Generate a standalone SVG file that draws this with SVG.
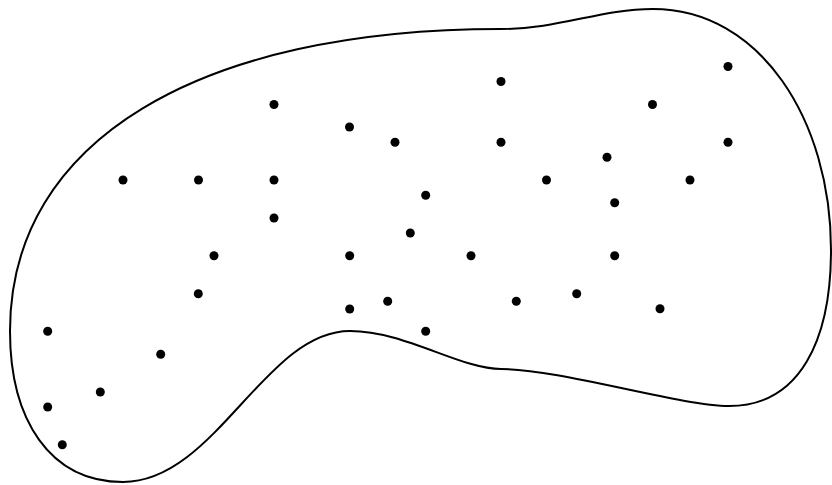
<svg xmlns="http://www.w3.org/2000/svg" width="832" height="485" viewBox="0 0 832 485">
<style>
.blob{fill:none;stroke:#000;stroke-width:2}
.pt{fill:#000}
</style>
<rect width="832" height="485" fill="#fff"/>
<g id="region">
<path class="blob" d="M501,29 C560,29 600,9 653,9 C760,9 831,120 831,250 C831,340 800,406 729,406 C680,406 560,369 501,369 C460,369 405,331 350,331 C265,331 215,482 123,482 C50,482 10,420 10,331 C10,140 200,29 501,29 Z"/>
</g>
<g id="points">
<circle class="pt" cx="501" cy="81.5" r="4.5"/>
<circle class="pt" cx="728" cy="66.5" r="4.5"/>
<circle class="pt" cx="274" cy="104.5" r="4.5"/>
<circle class="pt" cx="652.5" cy="104.5" r="4.5"/>
<circle class="pt" cx="349.5" cy="127" r="4.5"/>
<circle class="pt" cx="395" cy="142.3" r="4.5"/>
<circle class="pt" cx="501" cy="142.3" r="4.5"/>
<circle class="pt" cx="728" cy="142.3" r="4.5"/>
<circle class="pt" cx="607" cy="157.3" r="4.5"/>
<circle class="pt" cx="123" cy="180" r="4.5"/>
<circle class="pt" cx="198.5" cy="180" r="4.5"/>
<circle class="pt" cx="274" cy="180" r="4.5"/>
<circle class="pt" cx="546.5" cy="180" r="4.5"/>
<circle class="pt" cx="690" cy="180" r="4.5"/>
<circle class="pt" cx="425.7" cy="195.3" r="4.5"/>
<circle class="pt" cx="614.7" cy="202.7" r="4.5"/>
<circle class="pt" cx="274" cy="218" r="4.5"/>
<circle class="pt" cx="410.3" cy="233" r="4.5"/>
<circle class="pt" cx="214" cy="255.7" r="4.5"/>
<circle class="pt" cx="349.7" cy="255.7" r="4.5"/>
<circle class="pt" cx="471" cy="255.7" r="4.5"/>
<circle class="pt" cx="614.7" cy="255.7" r="4.5"/>
<circle class="pt" cx="198.3" cy="293.7" r="4.5"/>
<circle class="pt" cx="576.7" cy="293.7" r="4.5"/>
<circle class="pt" cx="387.7" cy="301.3" r="4.5"/>
<circle class="pt" cx="516.3" cy="301.3" r="4.5"/>
<circle class="pt" cx="349.7" cy="309" r="4.5"/>
<circle class="pt" cx="660" cy="308.7" r="4.5"/>
<circle class="pt" cx="47.7" cy="331.3" r="4.5"/>
<circle class="pt" cx="425.7" cy="331.3" r="4.5"/>
<circle class="pt" cx="160.7" cy="354.3" r="4.5"/>
<circle class="pt" cx="100.3" cy="392" r="4.5"/>
<circle class="pt" cx="47.7" cy="407" r="4.5"/>
<circle class="pt" cx="62.3" cy="444.7" r="4.5"/>
</g>
</svg>
